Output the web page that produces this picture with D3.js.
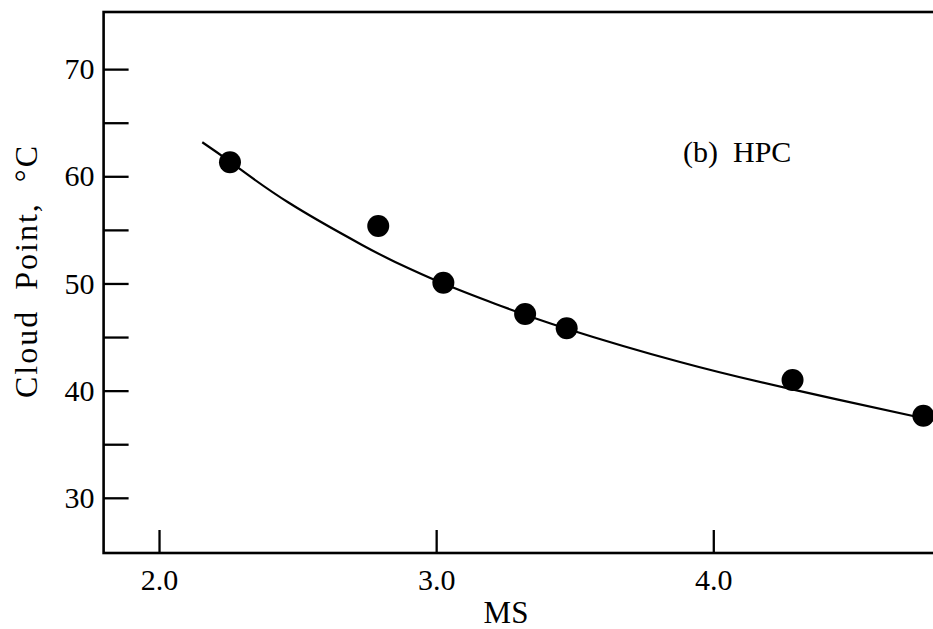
<!DOCTYPE html>
<html>
<head>
<meta charset="utf-8">
<script src="https://cdn.jsdelivr.net/npm/d3@7"></script>
<style>
  html, body { margin: 0; padding: 0; background: #fff; }
  svg { display: block; }
  text { font-family: "Liberation Serif", "DejaVu Serif", serif; fill: #000; }
</style>
</head>
<body>
<svg id="chart" width="933" height="629"></svg>
<script>
// ---- data ----
const msValues    = [2.256, 2.791, 3.026, 3.321, 3.471, 4.286, 4.758];
const cloudPoints = [61.31, 55.37, 50.07, 47.15, 45.82, 41.00, 37.66];

// fitted curve as drawn in the figure
const curveMS = [2.156, 2.256, 2.467, 2.731, 2.852, 3.026, 3.212, 3.471, 3.880, 4.289, 4.758, 4.793];
const curveCP = [63.18, 61.36, 57.55, 53.62, 52.01, 49.99, 48.11, 45.78, 42.67, 40.09, 37.42, 37.23];

const xTicks = [2.0, 3.0, 4.0];
const xTickLabels = ["2.0", "3.0", "4.0"];
const yTicks = [30, 35, 40, 45, 50, 55, 60, 65, 70];
const yTickLabels = ["30", "", "40", "", "50", "", "60", "", "70"];
const xTitle = "MS";
const yTitle = "Cloud  Point,  \u00B0C";
const panelLabel = "(b)  HPC";

// ---- drawing ----
const svg = d3.select("#chart");
const x = d3.scaleLinear().domain([1.8, 4.8]).range([103.6, 935.0]);
const y = d3.scaleLinear().domain([24.85, 75.33]).range([553, 12]);

// frame
svg.append("rect")
  .attr("x", x(1.8)).attr("y", y(75.33))
  .attr("width", x(4.8) - x(1.8)).attr("height", y(24.85) - y(75.33))
  .attr("fill", "none").attr("stroke", "#000").attr("stroke-width", 2.6);

// y axis
const yAxis = d3.axisLeft(y)
  .tickValues(yTicks)
  .tickSizeInner(-25).tickSizeOuter(0).tickPadding(9)
  .tickFormat((d, i) => yTickLabels[i]);
const gy = svg.append("g").attr("transform", `translate(${x(1.8)},0)`).call(yAxis);
gy.select(".domain").remove();
gy.selectAll(".tick line").attr("stroke", "#000").attr("stroke-width", 2.3);
gy.selectAll(".tick text").style("font-size", "30px").attr("font-family", null);

// x axis
const xAxis = d3.axisBottom(x)
  .tickValues(xTicks)
  .tickSizeInner(-23).tickSizeOuter(0).tickPadding(16)
  .tickFormat((d, i) => xTickLabels[i]);
const gx = svg.append("g").attr("transform", `translate(0,${y(24.85)})`).call(xAxis);
gx.select(".domain").remove();
gx.selectAll(".tick line").attr("stroke", "#000").attr("stroke-width", 2.3);
gx.selectAll(".tick text").style("font-size", "30px").attr("font-family", null);

// titles
svg.append("text")
  .attr("x", 506).attr("y", 623)
  .attr("text-anchor", "middle")
  .style("font-size", "31px")
  .text(xTitle);

svg.append("text")
  .attr("transform", "translate(37,271) rotate(-90)")
  .attr("text-anchor", "middle")
  .style("font-size", "32px")
  .style("letter-spacing", "2px")
  .style("white-space", "pre")
  .text(yTitle);

svg.append("text")
  .attr("x", 683).attr("y", 162)
  .style("font-size", "30px")
  .style("white-space", "pre")
  .text(panelLabel);

// curve
const curveData = curveMS.map((m, i) => ({ ms: m, cp: curveCP[i] }));
svg.append("path")
  .datum(curveData)
  .attr("fill", "none").attr("stroke", "#000").attr("stroke-width", 2.2)
  .attr("d", d3.line().x(d => x(d.ms)).y(d => y(d.cp)).curve(d3.curveNatural));

// points
const pts = msValues.map((m, i) => ({ ms: m, cp: cloudPoints[i] }));
svg.append("g").selectAll("circle")
  .data(pts).join("circle")
  .attr("cx", d => x(d.ms)).attr("cy", d => y(d.cp))
  .attr("r", 11).attr("fill", "#000");
</script>
</body>
</html>
